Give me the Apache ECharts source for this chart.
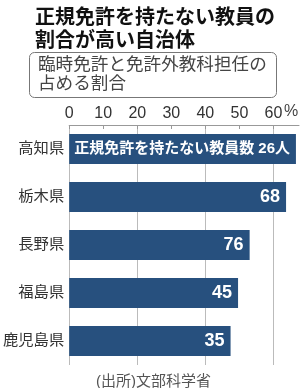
<!DOCTYPE html>
<html>
<head>
<meta charset="utf-8">
<script src="https://cdn.jsdelivr.net/npm/echarts@6/dist/echarts.min.js"></script>
<style>
html,body{margin:0;padding:0;background:#fff;}
#c{width:307px;height:388px;}
</style>
</head>
<body>
<div id="c"></div>
<script>
var categories = ['高知県', '栃木県', '長野県', '福島県', '鹿児島県'];
var shares = [66.6, 63.7, 53.0, 49.6, 47.4];
var counts = [26, 68, 76, 45, 35];
var firstLabelPrefix = '正規免許を持たない教員数 ';
var firstLabelSuffix = '人';
var tickLabels = ['0', '10', '20', '30', '40', '50', '60'];

var FONT = '"Liberation Sans", "Noto Sans CJK JP", sans-serif';
var chart = echarts.init(document.getElementById('c'));

var barData = shares.map(function (v, i) {
  var item = { value: v };
  if (i === 0) {
    item.label = {
      position: 'insideLeft',
      distance: 5,
      fontSize: 15,
      formatter: firstLabelPrefix + counts[i] + firstLabelSuffix
    };
  }
  return item;
});

chart.setOption({
  animation: false,
  textStyle: { fontFamily: FONT },
  title: [
    {
      text: '正規免許を持たない教員の\n割合が高い自治体',
      left: 30, top: 2,
      textStyle: { fontFamily: FONT, fontSize: 20, fontWeight: 'bold', color: '#111', lineHeight: 23 }
    },
    {
      text: '臨時免許と免許外教科担任の\n占める割合',
      left: 29, top: 52,
      padding: [4, 10, 4, 9],
      borderColor: '#777', borderWidth: 1, borderRadius: 5,
      textStyle: { fontFamily: FONT, fontSize: 17.6, fontWeight: 'normal', color: '#444', lineHeight: 19 }
    },
    {
      text: '(出所)文部科学省',
      left: 'center', top: 369,
      textStyle: { fontFamily: FONT, fontSize: 15, fontWeight: 'normal', color: '#555' }
    }
  ],
  graphic: [
    { type: 'text', left: 284, top: 104, style: { text: '%', fontFamily: FONT, fontSize: 16, fill: '#444' } }
  ],
  grid: { left: 68, right: 8, top: 125, bottom: 23, containLabel: false },
  xAxis: {
    type: 'value', position: 'top', min: 0, max: 67.5, interval: 10,
    axisLine: { show: true, lineStyle: { color: '#999', width: 1 } },
    axisTick: { show: true, inside: true, length: 4, lineStyle: { color: '#999' } },
    axisLabel: {
      margin: 3, fontSize: 16, color: '#333', fontFamily: FONT, showMaxLabel: false,
      formatter: function (v) { var i = Math.round(v / 10); return (v % 10 === 0 && tickLabels[i] !== undefined) ? tickLabels[i] : ''; }
    },
    splitLine: { show: true, lineStyle: { color: ['#bbb', 'rgba(0,0,0,0)'], width: 1 } }
  },
  yAxis: {
    type: 'category', data: categories, inverse: true,
    axisLine: { show: false }, axisTick: { show: false },
    axisLabel: { margin: 5, fontSize: 15.3, color: '#333', fontFamily: FONT }
  },
  series: [{
    type: 'bar', data: barData, barWidth: 30,
    itemStyle: { color: '#27507e' },
    label: {
      show: true, position: 'insideRight', distance: 6,
      color: '#fff', fontWeight: 'bold', fontSize: 18, fontFamily: FONT,
      formatter: function (p) { return String(counts[p.dataIndex]); }
    }
  }]
});
</script>
</body>
</html>
